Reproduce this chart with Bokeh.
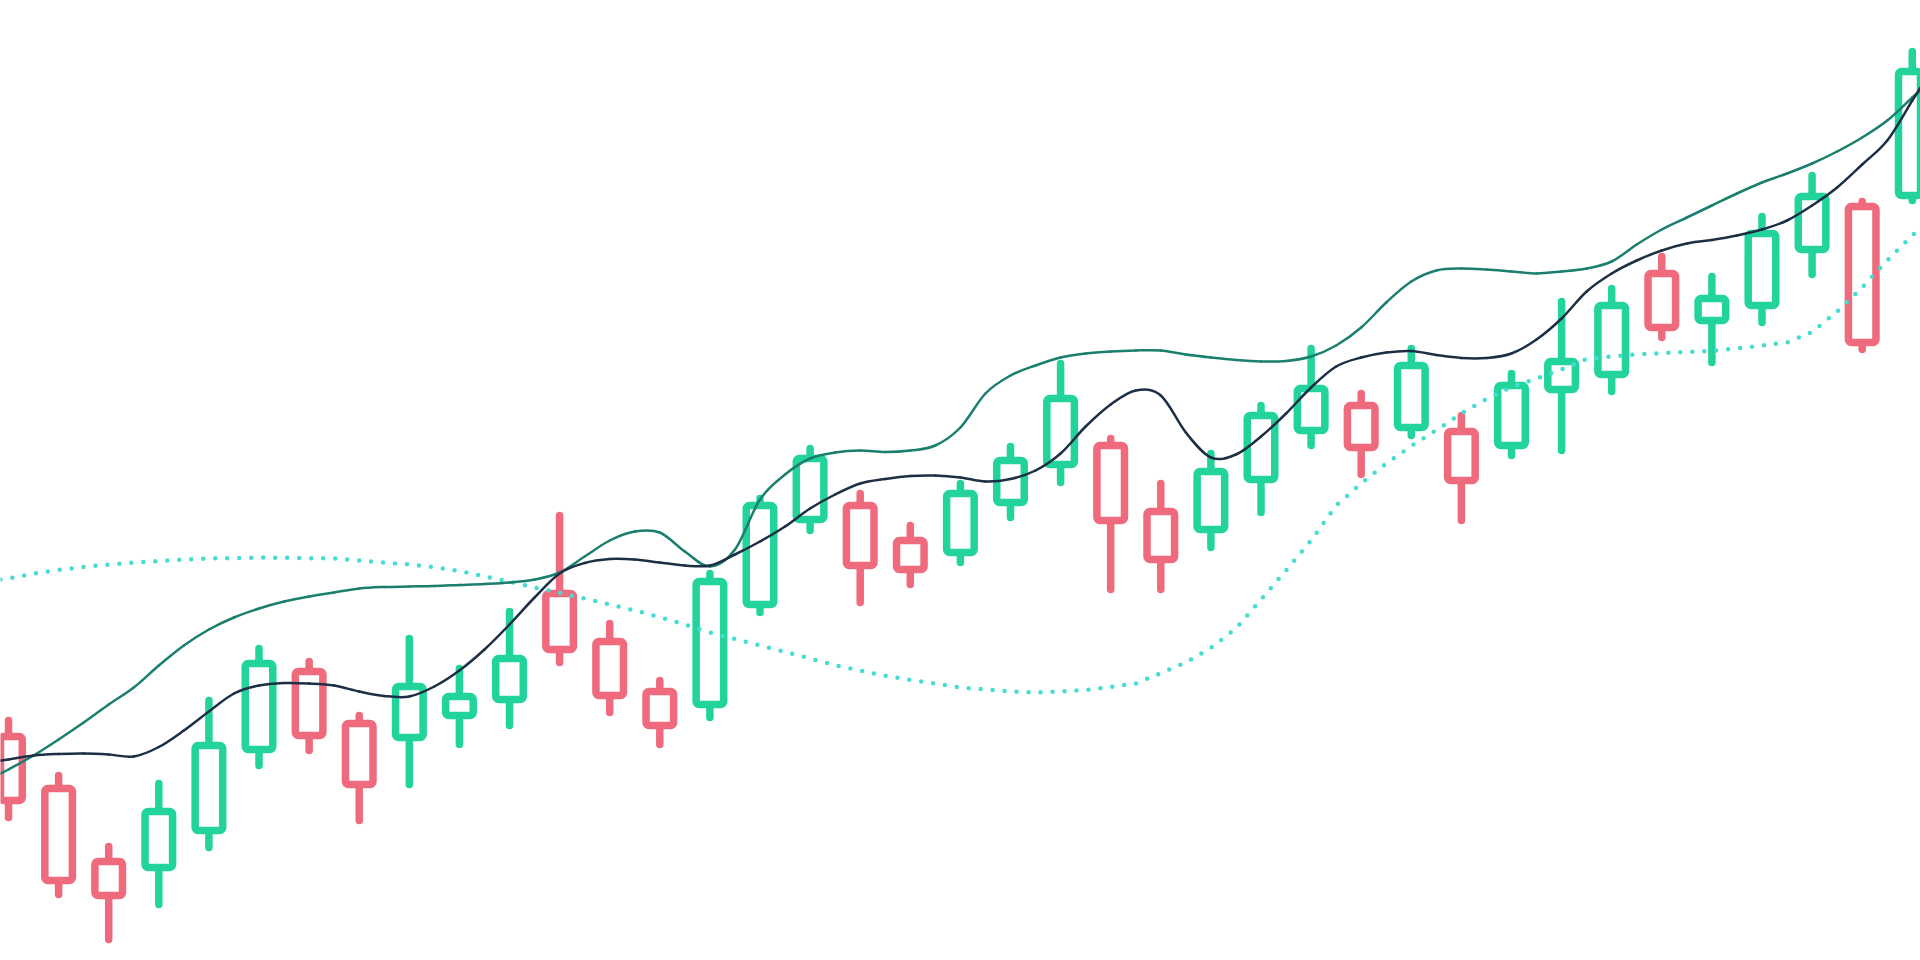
from bokeh.plotting import figure
from bokeh.models import Range1d, ColumnDataSource
from bokeh.embed import file_html
from bokeh.resources import INLINE

# ---- candle data (one per session) ----
opens = [121.6, 116.4, 109.1, 108.5, 112.2, 120.3, 128.1, 122.9, 121.5, 123.7,
         125.3, 135.9, 131.1, 126.1, 124.8, 134.8, 143.3, 144.7, 141.2, 140.0,
         145.0, 148.8, 150.7, 144.1, 142.3, 147.3, 152.2, 154.7, 152.5, 152.1,
         150.7, 156.3, 157.8, 167.9, 163.2, 164.7, 170.3, 174.6, 175.7]
closes = [115.2, 107.2, 105.7, 114.1, 120.7, 128.9, 121.7, 116.8, 126.6, 125.6,
          129.4, 130.3, 125.7, 122.7, 137.1, 144.7, 149.4, 138.7, 138.3, 145.9,
          149.2, 155.4, 143.2, 139.3, 148.1, 153.7, 156.4, 150.5, 158.7, 147.2,
          156.7, 159.1, 164.7, 162.5, 165.4, 171.9, 175.6, 161.0, 188.1]
highs = [123.2, 117.7, 110.6, 116.9, 125.2, 130.4, 129.1, 123.7, 131.4, 128.4,
         134.1, 143.7, 132.9, 127.2, 137.9, 145.4, 150.4, 145.9, 142.7, 146.9,
         150.6, 158.9, 151.4, 146.9, 149.9, 154.7, 160.4, 155.9, 160.4, 153.7,
         157.9, 165.1, 166.4, 169.6, 167.6, 173.6, 177.7, 175.1, 190.1]
lows = [113.5, 105.8, 101.3, 104.8, 110.5, 118.7, 120.2, 113.2, 116.8, 120.8,
        122.7, 129.0, 124.0, 120.8, 123.5, 134.0, 142.2, 135.0, 136.8, 139.0,
        143.5, 147.0, 136.3, 136.3, 140.5, 144.0, 150.7, 147.8, 151.7, 143.2,
        149.7, 150.2, 156.1, 161.5, 159.0, 163.0, 167.8, 160.3, 175.2]

# ---- indicator lines: value at the left edge, every half session, right edge ----
line_x = [-0.16] + [k * 0.5 for k in range(77)] + [38.164]
upper_band = [117.9,
              118.3, 119.7, 121.3, 123.0, 124.8, 126.5, 128.7, 130.7, 132.3, 133.5,
              134.4, 135.1, 135.6, 136.0, 136.4, 136.55, 136.6, 136.65, 136.75, 136.85,
              137.0, 137.3, 138.0, 139.6, 141.2, 142.1, 142.0, 140.1, 138.6, 140.3,
              145.3, 147.8, 149.4, 150.0, 150.2, 150.05, 150.2, 150.7, 152.5, 155.9,
              157.7, 158.7, 159.5, 159.9, 160.1, 160.2, 160.2, 159.8, 159.5, 159.25,
              159.1, 159.15, 159.6, 160.7, 162.5, 165.0, 167.1, 168.2, 168.4, 168.3,
              168.1, 167.9, 168.1, 168.4, 169.1, 170.8, 172.3, 173.5, 174.7, 175.9,
              177.0, 177.9, 178.9, 180.1, 181.5, 183.2, 185.5,
              186.2]
middle_line = [119.2,
               119.3, 119.7, 119.85, 119.9, 119.8, 119.6, 120.55, 122.2, 124.1, 125.9,
               126.7, 126.95, 126.9, 126.7, 126.1, 125.65, 125.6, 126.6, 128.2, 130.3,
               132.8, 135.5, 137.9, 138.95, 139.35, 139.3, 139.0, 138.7, 138.7, 139.8,
               141.1, 142.6, 144.4, 145.8, 146.9, 147.35, 147.65, 147.7, 147.5, 147.1,
               147.35, 148.2, 149.9, 152.6, 154.8, 156.2, 155.7, 152.0, 149.5, 149.8,
               151.6, 153.9, 156.5, 158.6, 159.5, 160.0, 160.15, 159.75, 159.45, 159.45,
               159.9, 161.3, 163.4, 166.1, 167.9, 169.2, 170.2, 170.9, 171.25, 171.7,
               172.3, 173.2, 174.7, 176.5, 178.8, 181.2, 185.2,
               186.5]
slow_line = [137.3,
             137.4, 137.9, 138.25, 138.55, 138.8, 139.0, 139.15, 139.3, 139.4, 139.45,
             139.5, 139.47, 139.44, 139.4, 139.2, 138.98, 138.8, 138.54, 138.15, 137.6,
             137.1, 136.5, 135.95, 135.4, 134.8, 134.2, 133.54, 132.8, 132.0, 131.36,
             130.7, 130.06, 129.4, 128.73, 128.2, 127.67, 127.25, 126.9, 126.5, 126.3,
             126.1, 126.0, 126.1, 126.25, 126.55, 126.9, 127.94, 129.0, 130.45, 132.4,
             135.3, 138.2, 141.2, 144.7, 146.9, 148.9, 150.65, 152.25, 153.9, 155.35,
             156.55, 157.4, 158.3, 159.35, 159.6, 159.8, 159.94, 160.05, 160.16, 160.4,
             160.7, 161.0, 162.05, 164.1, 166.5, 169.2, 171.7,
             172.5]

GREEN = "#22d39b"
RED = "#ee6a7c"
TEAL = "#1b7f6f"
NAVY = "#1d2f45"
CYAN = "#45ddd0"

n = len(opens)
idx = list(range(n))
colors = [GREEN if c >= o else RED for o, c in zip(opens, closes)]
src = ColumnDataSource(dict(
    x=idx,
    top=[max(o, c) for o, c in zip(opens, closes)],
    bottom=[min(o, c) for o, c in zip(opens, closes)],
    high=highs, low=lows, color=colors,
))


def smooth_source(xs, ys):
    """Catmull-Rom control points so the curve passes through every sample."""
    m = len(xs)
    d = dict(x0=[], y0=[], x1=[], y1=[], cx0=[], cy0=[], cx1=[], cy1=[])
    for i in range(m - 1):
        xa, ya = xs[max(i - 1, 0)], ys[max(i - 1, 0)]
        xb, yb = xs[i], ys[i]
        xc, yc = xs[i + 1], ys[i + 1]
        xd, yd = xs[min(i + 2, m - 1)], ys[min(i + 2, m - 1)]
        d["x0"].append(xb); d["y0"].append(yb)
        d["x1"].append(xc); d["y1"].append(yc)
        d["cx0"].append(xb + (xc - xa) / 6); d["cy0"].append(yb + (yc - ya) / 6)
        d["cx1"].append(xc - (xd - xb) / 6); d["cy1"].append(yc - (yd - yb) / 6)
    return ColumnDataSource(d)


p = figure(width=1920, height=960,
           x_range=Range1d(-0.16, 38.164), y_range=Range1d(99.2, 195.2),
           output_backend="svg", toolbar_location=None,
           x_axis_location=None, y_axis_location=None,
           min_border=0)
p.grid.visible = False
p.outline_line_color = None
p.background_fill_color = "white"
p.border_fill_color = "white"

p.segment(x0="x", y0="high", x1="x", y1="low", source=src,
          line_color="color", line_width=7.5, line_cap="round")
p.vbar(x="x", width=0.55, top="top", bottom="bottom", source=src,
       fill_color="white", line_color="color", line_width=7.5,
       line_join="round", border_radius=3)

p.line(line_x, slow_line, line_color=CYAN, line_width=4.5,
       line_dash="0 12", line_cap="round")
for ys, col in ((upper_band, TEAL), (middle_line, NAVY)):
    p.bezier(x0="x0", y0="y0", x1="x1", y1="y1", cx0="cx0", cy0="cy0",
             cx1="cx1", cy1="cy1", source=smooth_source(line_x, ys),
             line_color=col, line_width=2.5, line_cap="round")

open("out.html", "w").write(file_html(p, INLINE))
